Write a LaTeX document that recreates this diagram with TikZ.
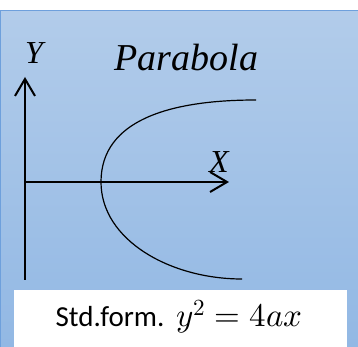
\documentclass[tikz,border=0pt]{standalone}
\usepackage{fontspec}
\usepackage{unicode-math}
\setmainfont{Liberation Serif}
\setmathfont{Latin Modern Math}
\newfontfamily\calib{Carlito}
\usetikzlibrary{arrows.meta}
\definecolor{bgtop}{RGB}{178,204,234}
\definecolor{bgbot}{RGB}{146,184,228}
\definecolor{bgborder}{RGB}{110,160,220}
\tikzset{
  axis/.style={line width=2pt, -{Straight Barb[length=17pt,width=20pt,line width=2pt]}},
  curve/.style={line width=1.2pt},
  lbl/.style={inner sep=0pt, anchor=base, font=\fontsize{32}{36}\selectfont\itshape},
}
\begin{document}
\begin{tikzpicture}[x=1pt,y=1pt]
\useasboundingbox (0,0) rectangle (358,347);
\fill[white] (0,0) rectangle (358,347);
\shade[top color=bgtop, bottom color=bgbot] (0.5,0) rectangle (360,336);
\draw[bgborder, line width=1pt] (0.5,0) -- (0.5,336) -- (360,336);
% white formula box
\node[fill=white, minimum width=333pt, minimum height=57pt, inner sep=0pt, anchor=south west] (box) at (14,0) {};
\node[inner sep=0pt, anchor=base] (formula) at (179,20) {\fontsize{29}{32}\selectfont\calib Std.form.\hspace{12pt}{\fontsize{33}{36}\selectfont$y^2=4ax$}};
% axes
\coordinate (O) at (25,165);
\coordinate (ybot) at (25,67);
\coordinate (ytop) at (25,270);
\coordinate (xtip) at (229,165);
\draw[line width=2pt] (ybot) -- (O);
\draw[axis] (O) -- (ytop);
\draw[axis] (O) -- (xtip);
% labels
\node[lbl] (Y) at (34,283) {Y};
\node[lbl] (X) at (219,174) {X};
\node[inner sep=0pt, anchor=base, font=\fontsize{38}{42}\selectfont\itshape] (title) at (186.5,276) {Parabola};
% parabola
\coordinate (V) at (101,165);
\coordinate (T) at (256,247);
\coordinate (B) at (242,68);
\draw[curve] (T) .. controls (170,247) and (101,227) .. (V)
  .. controls (101,107) and (170,68) .. (B);
\end{tikzpicture}
\end{document}
